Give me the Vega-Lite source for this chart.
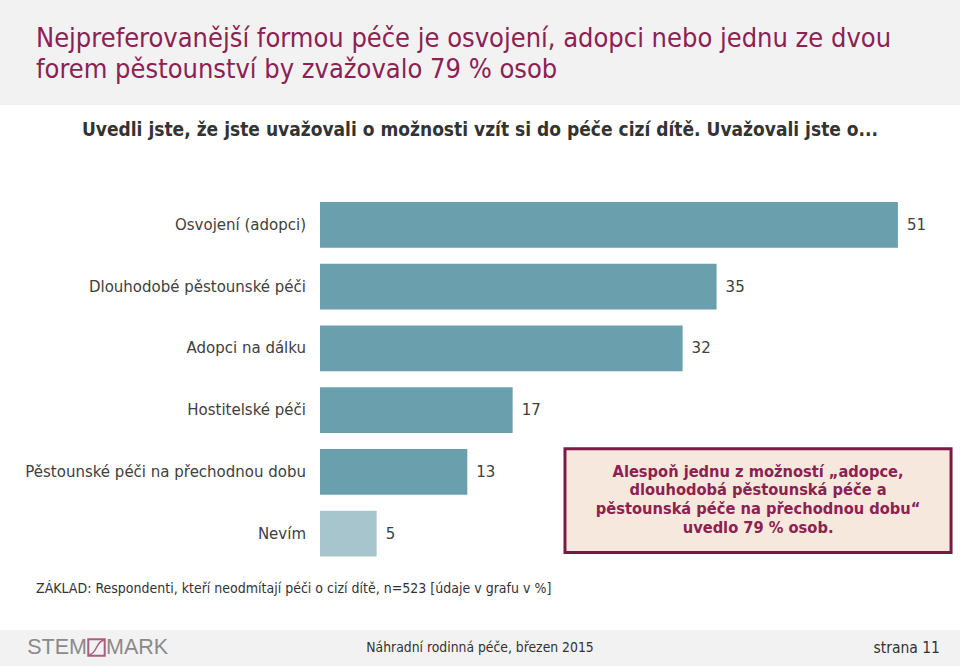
{
  "$schema": "https://vega.github.io/schema/vega-lite/v6.json",
  "background": "white",
  "padding": 0,
  "spacing": 0,
  "bounds": "flush",
  "config": {"view": {"stroke": null}},
  "datasets": {
    "bars": [
      {"cat": "Osvojení (adopci)", "v": 51},
      {"cat": "Dlouhodobé pěstounské péči", "v": 35},
      {"cat": "Adopci na dálku", "v": 32},
      {"cat": "Hostitelské péči", "v": 17},
      {"cat": "Pěstounské péči na přechodnou dobu", "v": 13},
      {"cat": "Nevím", "v": 5}
    ],
    "header": [{"t": "Nejpreferovanější formou péče je osvojení, adopci nebo jednu ze dvou\nforem pěstounství by zvažovalo 79 % osob"}],
    "notes": [{
      "sub": "Uvedli jste, že jste uvažovali o možnosti vzít si do péče cizí dítě. Uvažovali jste o...",
      "base": "ZÁKLAD: Respondenti, kteří neodmítají péči o cizí dítě, n=523 [údaje v grafu v %]",
      "box": "Alespoň jednu z možností „adopce,\ndlouhodobá pěstounská péče a\npěstounská péče na přechodnou dobu“\nuvedlo 79 % osob."
    }],
    "footer": [{"a": "STEM", "b": "MARK", "c": "Náhradní rodinná péče, březen 2015", "d": "strana 11"}]
  },
  "vconcat": [
    {
      "width": 960,
      "height": 105,
      "view": {"fill": "#f2f2f2", "stroke": null},
      "data": {"name": "header"},
      "mark": {"type": "text", "align": "left", "baseline": "alphabetic", "lineBreak": "\n", "lineHeight": 31, "font": "DejaVu Sans Condensed", "fontSize": 27, "color": "#8c2152"},
      "encoding": {
        "x": {"value": 36},
        "y": {"value": 47},
        "text": {"field": "t"}
      }
    },
    {
      "width": 960,
      "height": 478,
      "layer": [
        {
          "data": {"name": "bars"},
          "mark": {"type": "bar"},
          "encoding": {
            "y": {"field": "cat", "type": "nominal", "sort": null, "axis": null,
              "scale": {"domain": ["Osvojení (adopci)", "Dlouhodobé pěstounské péči", "Adopci na dálku", "Hostitelské péči", "Pěstounské péči na přechodnou dobu", "Nevím"], "paddingInner": 0.26, "paddingOuter": 1, "align": 0.785}},
            "x": {"field": "v", "type": "quantitative", "axis": null, "scale": {"domain": [-28.24, 56.48], "nice": false, "zero": false}},
            "color": {"condition": {"test": "datum.cat === 'Nevím'", "value": "#a7c5cc"}, "value": "#6a9fad"}
          }
        },
        {
          "data": {"name": "notes"},
          "mark": {"type": "rect", "fill": "#f6e8dc", "stroke": "#7a1a44", "strokeWidth": 3, "yOffset": -23, "y2Offset": 19},
          "encoding": {
            "x": {"datum": 21.62, "type": "quantitative"},
            "x2": {"datum": 55.69},
            "y": {"datum": "Pěstounské péči na přechodnou dobu", "type": "nominal"},
            "y2": {"datum": "Nevím"}
          }
        },
        {
          "data": {"name": "bars"},
          "mark": {"type": "text", "align": "right", "baseline": "middle", "dx": -14, "font": "DejaVu Sans", "fontSize": 15, "color": "#404040"},
          "encoding": {
            "y": {"field": "cat", "type": "nominal", "sort": null},
            "x": {"datum": 0, "type": "quantitative"},
            "text": {"field": "cat"}
          }
        },
        {
          "data": {"name": "bars"},
          "mark": {"type": "text", "align": "left", "baseline": "middle", "dx": 9, "font": "DejaVu Sans", "fontSize": 15, "color": "#404040"},
          "encoding": {
            "y": {"field": "cat", "type": "nominal", "sort": null},
            "x": {"field": "v", "type": "quantitative"},
            "text": {"field": "v"}
          }
        },
        {
          "data": {"name": "notes"},
          "mark": {"type": "text", "align": "center", "baseline": "middle", "lineBreak": "\n", "lineHeight": 18.7, "dy": -62, "font": "DejaVu Sans Condensed", "fontWeight": "bold", "fontSize": 16.3, "color": "#8c2152"},
          "encoding": {
            "x": {"datum": 38.66, "type": "quantitative"},
            "y": {"datum": "Nevím", "type": "nominal"},
            "text": {"field": "box"}
          }
        },
        {
          "data": {"name": "notes"},
          "mark": {"type": "text", "align": "center", "baseline": "middle", "font": "DejaVu Sans Condensed", "fontWeight": "bold", "fontSize": 19, "color": "#333333"},
          "encoding": {
            "x": {"value": 480},
            "y": {"value": 25},
            "text": {"field": "sub"}
          }
        }
      ]
    },
    {
      "width": 960,
      "height": 47,
      "data": {"name": "notes"},
      "mark": {"type": "text", "align": "left", "baseline": "middle", "font": "DejaVu Sans Condensed", "fontSize": 14, "color": "#333333"},
      "encoding": {
        "x": {"value": 36},
        "y": {"value": 6},
        "text": {"field": "base"}
      }
    },
    {
      "width": 960,
      "height": 36,
      "view": {"fill": "#f2f2f2", "stroke": null},
      "data": {"name": "footer"},
      "layer": [
        {
          "mark": {"type": "text", "align": "right", "baseline": "middle", "font": "Liberation Sans", "fontSize": 21.5, "color": "#8a8a8a"},
          "encoding": {"x": {"value": 87}, "y": {"value": 18}, "text": {"field": "a"}}
        },
        {
          "mark": {"type": "text", "align": "left", "baseline": "middle", "font": "Liberation Sans", "fontSize": 21.5, "color": "#8a8a8a"},
          "encoding": {"x": {"value": 106}, "y": {"value": 18}, "text": {"field": "b"}}
        },
        {
          "mark": {"type": "point", "shape": "square", "size": 270, "filled": false, "stroke": "#8c2152", "strokeWidth": 2},
          "encoding": {"x": {"value": 96.5}, "y": {"value": 17.5}}
        },
        {
          "mark": {"type": "point", "shape": "M-1,1 C0,1 0,-1 1,-1", "size": 200, "filled": false, "stroke": "#8c2152", "strokeWidth": 1.5},
          "encoding": {"x": {"value": 96.5}, "y": {"value": 17.5}}
        },
        {
          "mark": {"type": "text", "align": "center", "baseline": "middle", "font": "DejaVu Sans Condensed", "fontSize": 13.8, "color": "#333333"},
          "encoding": {"x": {"value": 480}, "y": {"value": 18}, "text": {"field": "c"}}
        },
        {
          "mark": {"type": "text", "align": "right", "baseline": "middle", "font": "DejaVu Sans Condensed", "fontSize": 15.5, "color": "#333333"},
          "encoding": {"x": {"value": 940}, "y": {"value": 18}, "text": {"field": "d"}}
        }
      ]
    }
  ]
}
